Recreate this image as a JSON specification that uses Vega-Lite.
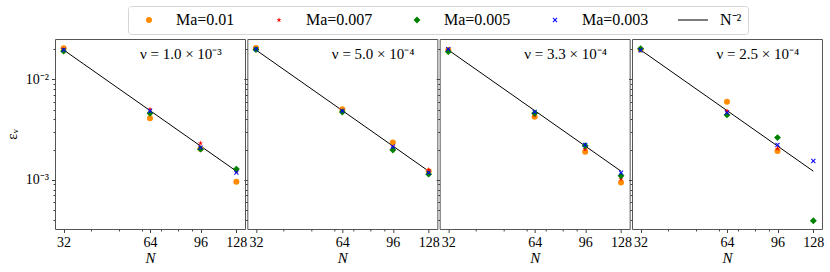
{
  "$schema": "https://vega.github.io/schema/vega-lite/v6.json",
  "background": "white",
  "padding": {"left": 3, "top": 5, "right": 0, "bottom": 0},
  "bounds": "flush",
  "datasets": {
    "fit": [
      {"N": 32, "eps": 0.01953},
      {"N": 128, "eps": 0.00122}
    ],
    "labels": [
      {"panel": 1, "text": "ν = 1.0 × 10⁻³"},
      {"panel": 2, "text": "ν = 5.0 × 10⁻⁴"},
      {"panel": 3, "text": "ν = 3.3 × 10⁻⁴"},
      {"panel": 4, "text": "ν = 2.5 × 10⁻⁴"}
    ],
    "pts": [
      {"panel": 1, "series": "Ma=0.01", "N": 32, "eps": 0.0203},
      {"panel": 1, "series": "Ma=0.01", "N": 64, "eps": 0.0041},
      {"panel": 1, "series": "Ma=0.01", "N": 96, "eps": 0.00204},
      {"panel": 1, "series": "Ma=0.01", "N": 128, "eps": 0.00096},
      {"panel": 1, "series": "Ma=0.007", "N": 32, "eps": 0.0198},
      {"panel": 1, "series": "Ma=0.007", "N": 64, "eps": 0.00503},
      {"panel": 1, "series": "Ma=0.007", "N": 96, "eps": 0.00231},
      {"panel": 1, "series": "Ma=0.007", "N": 128, "eps": 0.00122},
      {"panel": 1, "series": "Ma=0.005", "N": 32, "eps": 0.019},
      {"panel": 1, "series": "Ma=0.005", "N": 64, "eps": 0.00459},
      {"panel": 1, "series": "Ma=0.005", "N": 96, "eps": 0.00202},
      {"panel": 1, "series": "Ma=0.005", "N": 128, "eps": 0.00128},
      {"panel": 1, "series": "Ma=0.003", "N": 32, "eps": 0.0196},
      {"panel": 1, "series": "Ma=0.003", "N": 64, "eps": 0.00484},
      {"panel": 1, "series": "Ma=0.003", "N": 96, "eps": 0.00209},
      {"panel": 1, "series": "Ma=0.003", "N": 128, "eps": 0.00118},

      {"panel": 2, "series": "Ma=0.01", "N": 32, "eps": 0.0204},
      {"panel": 2, "series": "Ma=0.01", "N": 64, "eps": 0.00503},
      {"panel": 2, "series": "Ma=0.01", "N": 96, "eps": 0.00235},
      {"panel": 2, "series": "Ma=0.01", "N": 128, "eps": 0.00122},
      {"panel": 2, "series": "Ma=0.007", "N": 32, "eps": 0.0199},
      {"panel": 2, "series": "Ma=0.007", "N": 64, "eps": 0.00484},
      {"panel": 2, "series": "Ma=0.007", "N": 96, "eps": 0.0021},
      {"panel": 2, "series": "Ma=0.007", "N": 128, "eps": 0.00126},
      {"panel": 2, "series": "Ma=0.005", "N": 32, "eps": 0.0197},
      {"panel": 2, "series": "Ma=0.005", "N": 64, "eps": 0.00473},
      {"panel": 2, "series": "Ma=0.005", "N": 96, "eps": 0.00198},
      {"panel": 2, "series": "Ma=0.005", "N": 128, "eps": 0.00114},
      {"panel": 2, "series": "Ma=0.003", "N": 32, "eps": 0.0199},
      {"panel": 2, "series": "Ma=0.003", "N": 64, "eps": 0.00484},
      {"panel": 2, "series": "Ma=0.003", "N": 96, "eps": 0.00214},
      {"panel": 2, "series": "Ma=0.003", "N": 128, "eps": 0.00118},

      {"panel": 3, "series": "Ma=0.01", "N": 32, "eps": 0.0195},
      {"panel": 3, "series": "Ma=0.01", "N": 64, "eps": 0.00425},
      {"panel": 3, "series": "Ma=0.01", "N": 96, "eps": 0.0019},
      {"panel": 3, "series": "Ma=0.01", "N": 128, "eps": 0.00094},
      {"panel": 3, "series": "Ma=0.007", "N": 32, "eps": 0.0195},
      {"panel": 3, "series": "Ma=0.007", "N": 64, "eps": 0.0044},
      {"panel": 3, "series": "Ma=0.007", "N": 96, "eps": 0.00202},
      {"panel": 3, "series": "Ma=0.007", "N": 128, "eps": 0.00102},
      {"panel": 3, "series": "Ma=0.005", "N": 32, "eps": 0.0188},
      {"panel": 3, "series": "Ma=0.005", "N": 64, "eps": 0.00459},
      {"panel": 3, "series": "Ma=0.005", "N": 96, "eps": 0.00218},
      {"panel": 3, "series": "Ma=0.005", "N": 128, "eps": 0.0011},
      {"panel": 3, "series": "Ma=0.003", "N": 32, "eps": 0.0199},
      {"panel": 3, "series": "Ma=0.003", "N": 64, "eps": 0.00474},
      {"panel": 3, "series": "Ma=0.003", "N": 96, "eps": 0.00223},
      {"panel": 3, "series": "Ma=0.003", "N": 128, "eps": 0.00118},

      {"panel": 4, "series": "Ma=0.01", "N": 32, "eps": 0.0197},
      {"panel": 4, "series": "Ma=0.01", "N": 64, "eps": 0.00599},
      {"panel": 4, "series": "Ma=0.01", "N": 96, "eps": 0.00194},
      {"panel": 4, "series": "Ma=0.007", "N": 32, "eps": 0.0197},
      {"panel": 4, "series": "Ma=0.007", "N": 64, "eps": 0.00484},
      {"panel": 4, "series": "Ma=0.007", "N": 96, "eps": 0.00205},
      {"panel": 4, "series": "Ma=0.005", "N": 32, "eps": 0.0201},
      {"panel": 4, "series": "Ma=0.005", "N": 64, "eps": 0.00442},
      {"panel": 4, "series": "Ma=0.005", "N": 96, "eps": 0.00263},
      {"panel": 4, "series": "Ma=0.005", "N": 128, "eps": 0.000392},
      {"panel": 4, "series": "Ma=0.003", "N": 32, "eps": 0.0194},
      {"panel": 4, "series": "Ma=0.003", "N": 64, "eps": 0.00466},
      {"panel": 4, "series": "Ma=0.003", "N": 96, "eps": 0.00223},
      {"panel": 4, "series": "Ma=0.003", "N": 128, "eps": 0.00154}
    ]
  },
  "spacing": 2.33,
  "hconcat": [
    {
      "width": 190, "height": 190,
      "layer": [
        {"data": {"name": "fit"}, "mark": {"type": "line", "color": "black", "strokeWidth": 1},
         "encoding": {
           "x": {"field": "N", "type": "quantitative", "title": "N",
                 "scale": {"type": "log", "base": 2, "domain": [29.86, 137.19], "nice": false},
                 "axis": {"values": [32, 40, 50, 60, 64, 70, 80, 90, 96, 128], "format": "d",
                          "labelExpr": "indexof([32,64,96,128], datum.value) >= 0 ? datum.label : ''",
                          "tickSize": {"condition": {"test": "indexof([32,64,96,128], datum.value) >= 0", "value": 3.5}, "value": 2}}},
           "y": {"field": "eps", "type": "quantitative", "title": "εᵥ",
                 "scale": {"type": "log", "domain": [0.000325, 0.0251], "nice": false},
                 "axis": {"values": [0.0004, 0.0005, 0.0006, 0.0007, 0.0008, 0.0009, 0.001, 0.002, 0.003, 0.004, 0.005, 0.006, 0.007, 0.008, 0.009, 0.01, 0.02],
                          "labelExpr": "datum.value == 0.01 ? '10⁻²' : (datum.value == 0.001 ? '10⁻³' : '')",
                          "tickSize": {"condition": {"test": "datum.value == 0.01 || datum.value == 0.001", "value": 3.5}, "value": 2}}}
         }},
        {"data": {"name": "pts"}, "transform": [{"filter": "datum.panel == 1"}],
         "mark": {"type": "point", "filled": true, "opacity": 1, "size": 36, "strokeWidth": 0},
         "encoding": {
           "x": {"field": "N", "type": "quantitative"},
           "y": {"field": "eps", "type": "quantitative"},
           "color": {"field": "series", "type": "nominal",
                     "scale": {"domain": ["Ma=0.01", "Ma=0.007", "Ma=0.005", "Ma=0.003", "N⁻²"], "range": ["#ff8c00", "#ff0000", "#008000", "#0000ff", "#000000"]},
                     "legend": {"orient": "none", "legendX": 73, "legendY": -33, "direction": "horizontal", "columns": 5, "title": null,
                                "symbolOffset": 7, "labelOffset": 19, "columnPadding": 29, "padding": 6}},
           "shape": {"field": "series", "type": "nominal",
                     "scale": {"domain": ["Ma=0.01", "Ma=0.007", "Ma=0.005", "Ma=0.003", "N⁻²"],
                               "range": ["circle",
                                         "M0,-0.9L0.203,-0.279L0.856,-0.278L0.328,0.107L0.529,0.728L0,0.345L-0.529,0.728L-0.328,0.107L-0.856,-0.278L-0.203,-0.279Z",
                                         "M0,-1.15L1.15,0L0,1.15L-1.15,0Z",
                                         "M-0.8,-0.56L-0.56,-0.8L0,-0.24L0.56,-0.8L0.8,-0.56L0.24,0L0.8,0.56L0.56,0.8L0,0.24L-0.56,0.8L-0.8,0.56L-0.24,0Z",
                                         "M-5,-0.17L5,-0.17L5,0.17L-5,0.17Z"]},
                     "legend": {"orient": "none", "legendX": 73, "legendY": -33, "direction": "horizontal", "columns": 5, "title": null,
                                "symbolOffset": 7, "labelOffset": 19, "columnPadding": 29, "padding": 6}}
         }},
        {"data": {"name": "labels"}, "transform": [{"filter": "datum.panel == 1"}],
         "mark": {"type": "text", "fontSize": 15, "font": "Liberation Serif", "color": "black", "baseline": "middle"},
         "encoding": {"text": {"field": "text"}, "x": {"datum": 82}, "y": {"datum": 0.0178}}}
      ]
    },
    {
      "width": 190, "height": 190,
      "layer": [
        {"data": {"name": "fit"}, "mark": {"type": "line", "color": "black", "strokeWidth": 1},
         "encoding": {
           "x": {"field": "N", "type": "quantitative", "title": "N",
                 "scale": {"type": "log", "base": 2, "domain": [29.86, 137.19], "nice": false},
                 "axis": {"values": [32, 40, 50, 60, 64, 70, 80, 90, 96, 128], "format": "d",
                          "labelExpr": "indexof([32,64,96,128], datum.value) >= 0 ? datum.label : ''",
                          "tickSize": {"condition": {"test": "indexof([32,64,96,128], datum.value) >= 0", "value": 3.5}, "value": 2}}},
           "y": {"field": "eps", "type": "quantitative", "title": null,
                 "scale": {"type": "log", "domain": [0.000325, 0.0251], "nice": false},
                 "axis": {"values": [0.0004, 0.0005, 0.0006, 0.0007, 0.0008, 0.0009, 0.001, 0.002, 0.003, 0.004, 0.005, 0.006, 0.007, 0.008, 0.009, 0.01, 0.02],
                          "labels": false,
                          "tickSize": {"condition": {"test": "datum.value == 0.01 || datum.value == 0.001", "value": 3.5}, "value": 2}}}
         }},
        {"data": {"name": "pts"}, "transform": [{"filter": "datum.panel == 2"}],
         "mark": {"type": "point", "filled": true, "opacity": 1, "size": 36, "strokeWidth": 0},
         "encoding": {
           "x": {"field": "N", "type": "quantitative"},
           "y": {"field": "eps", "type": "quantitative"},
           "color": {"field": "series", "type": "nominal"},
           "shape": {"field": "series", "type": "nominal"}
         }},
        {"data": {"name": "labels"}, "transform": [{"filter": "datum.panel == 2"}],
         "mark": {"type": "text", "fontSize": 15, "font": "Liberation Serif", "color": "black", "baseline": "middle"},
         "encoding": {"text": {"field": "text"}, "x": {"datum": 82}, "y": {"datum": 0.0178}}}
      ]
    },
    {
      "width": 190, "height": 190,
      "layer": [
        {"data": {"name": "fit"}, "mark": {"type": "line", "color": "black", "strokeWidth": 1},
         "encoding": {
           "x": {"field": "N", "type": "quantitative", "title": "N",
                 "scale": {"type": "log", "base": 2, "domain": [29.86, 137.19], "nice": false},
                 "axis": {"values": [32, 40, 50, 60, 64, 70, 80, 90, 96, 128], "format": "d",
                          "labelExpr": "indexof([32,64,96,128], datum.value) >= 0 ? datum.label : ''",
                          "tickSize": {"condition": {"test": "indexof([32,64,96,128], datum.value) >= 0", "value": 3.5}, "value": 2}}},
           "y": {"field": "eps", "type": "quantitative", "title": null,
                 "scale": {"type": "log", "domain": [0.000325, 0.0251], "nice": false},
                 "axis": {"values": [0.0004, 0.0005, 0.0006, 0.0007, 0.0008, 0.0009, 0.001, 0.002, 0.003, 0.004, 0.005, 0.006, 0.007, 0.008, 0.009, 0.01, 0.02],
                          "labels": false,
                          "tickSize": {"condition": {"test": "datum.value == 0.01 || datum.value == 0.001", "value": 3.5}, "value": 2}}}
         }},
        {"data": {"name": "pts"}, "transform": [{"filter": "datum.panel == 3"}],
         "mark": {"type": "point", "filled": true, "opacity": 1, "size": 36, "strokeWidth": 0},
         "encoding": {
           "x": {"field": "N", "type": "quantitative"},
           "y": {"field": "eps", "type": "quantitative"},
           "color": {"field": "series", "type": "nominal"},
           "shape": {"field": "series", "type": "nominal"}
         }},
        {"data": {"name": "labels"}, "transform": [{"filter": "datum.panel == 3"}],
         "mark": {"type": "text", "fontSize": 15, "font": "Liberation Serif", "color": "black", "baseline": "middle"},
         "encoding": {"text": {"field": "text"}, "x": {"datum": 82}, "y": {"datum": 0.0178}}}
      ]
    },
    {
      "width": 190, "height": 190,
      "layer": [
        {"data": {"name": "fit"}, "mark": {"type": "line", "color": "black", "strokeWidth": 1},
         "encoding": {
           "x": {"field": "N", "type": "quantitative", "title": "N",
                 "scale": {"type": "log", "base": 2, "domain": [29.86, 137.19], "nice": false},
                 "axis": {"values": [32, 40, 50, 60, 64, 70, 80, 90, 96, 128], "format": "d",
                          "labelExpr": "indexof([32,64,96,128], datum.value) >= 0 ? datum.label : ''",
                          "tickSize": {"condition": {"test": "indexof([32,64,96,128], datum.value) >= 0", "value": 3.5}, "value": 2}}},
           "y": {"field": "eps", "type": "quantitative", "title": null,
                 "scale": {"type": "log", "domain": [0.000325, 0.0251], "nice": false},
                 "axis": {"values": [0.0004, 0.0005, 0.0006, 0.0007, 0.0008, 0.0009, 0.001, 0.002, 0.003, 0.004, 0.005, 0.006, 0.007, 0.008, 0.009, 0.01, 0.02],
                          "labels": false,
                          "tickSize": {"condition": {"test": "datum.value == 0.01 || datum.value == 0.001", "value": 3.5}, "value": 2}}}
         }},
        {"data": {"name": "pts"}, "transform": [{"filter": "datum.panel == 4"}],
         "mark": {"type": "point", "filled": true, "opacity": 1, "size": 36, "strokeWidth": 0},
         "encoding": {
           "x": {"field": "N", "type": "quantitative"},
           "y": {"field": "eps", "type": "quantitative"},
           "color": {"field": "series", "type": "nominal"},
           "shape": {"field": "series", "type": "nominal"}
         }},
        {"data": {"name": "labels"}, "transform": [{"filter": "datum.panel == 4"}],
         "mark": {"type": "text", "fontSize": 15, "font": "Liberation Serif", "color": "black", "baseline": "middle"},
         "encoding": {"text": {"field": "text"}, "x": {"datum": 82}, "y": {"datum": 0.0178}}}
      ]
    }
  ],
  "config": {
    "view": {"stroke": "#555", "strokeWidth": 1},
    "axis": {
      "grid": false, "domain": false,
      "tickColor": "#444", "tickWidth": 1,
      "labelFont": "Liberation Serif", "labelFontSize": 14, "labelColor": "black", "labelPadding": 3,
      "titleFont": "Liberation Serif", "titleFontSize": 15, "titleFontWeight": "normal", "titleColor": "black"
    },
    "axisX": {"titleFontStyle": "italic", "titlePadding": 1},
    "axisY": {"titlePadding": 6},
    "legend": {
      "labelFont": "Liberation Serif", "labelFontSize": 16, "labelColor": "black",
      "symbolSize": 36, "symbolStrokeWidth": 0, "symbolOpacity": 1,
      "strokeColor": "#d5d5d5", "cornerRadius": 3, "fillColor": "white"
    }
  }
}
